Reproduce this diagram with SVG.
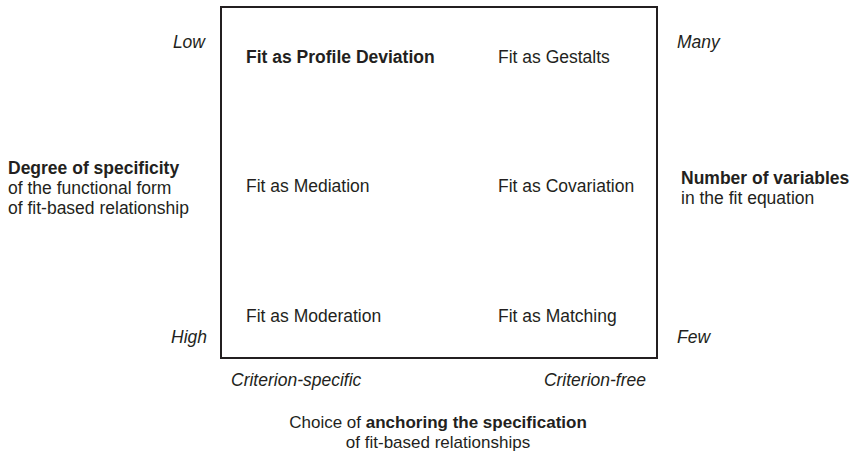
<svg xmlns="http://www.w3.org/2000/svg" width="853" height="455" viewBox="0 0 853 455">
  <style>
    text { font-family: "Liberation Sans", Arial, sans-serif; font-size: 17.5px; fill: #231f20; }
    .b { font-weight: bold; }
    .i { font-style: italic; }
    .caption { font-size: 17px; }
    .frame { fill: none; stroke: #231f20; stroke-width: 2; }
  </style>
  <rect width="853" height="455" fill="#ffffff"/>

  <!-- quadrant frame -->
  <g id="frame">
    <rect class="frame" x="221" y="7" width="436" height="351"/>
  </g>

  <!-- cells inside the frame -->
  <g id="profile-deviation"><text class="b" x="246" y="63">Fit as Profile Deviation</text></g>
  <g id="gestalts"><text x="498" y="63">Fit as Gestalts</text></g>
  <g id="mediation"><text x="246" y="192">Fit as Mediation</text></g>
  <g id="covariation"><text x="498" y="192">Fit as Covariation</text></g>
  <g id="moderation"><text x="246" y="322">Fit as Moderation</text></g>
  <g id="matching"><text x="498" y="322">Fit as Matching</text></g>

  <!-- left axis -->
  <g id="axis-left">
    <text class="i" x="205" y="48" text-anchor="end">Low</text>
    <text class="i" x="207" y="343" text-anchor="end">High</text>
    <text class="b" x="8" y="174">Degree of specificity</text>
    <text x="8" y="194">of the functional form</text>
    <text x="8" y="214">of fit-based relationship</text>
  </g>

  <!-- right axis -->
  <g id="axis-right">
    <text class="i" x="677" y="48">Many</text>
    <text class="i" x="677" y="343">Few</text>
    <text class="b" x="681" y="184">Number of variables</text>
    <text x="681" y="204">in the fit equation</text>
  </g>

  <!-- bottom axis -->
  <g id="axis-bottom">
    <text class="i" x="231" y="386">Criterion-specific</text>
    <text class="i" x="646" y="386" text-anchor="end">Criterion-free</text>
    <text class="caption" x="438" y="428" text-anchor="middle">Choice of <tspan class="b">anchoring the specification</tspan></text>
    <text class="caption" x="438" y="448" text-anchor="middle">of fit-based relationships</text>
  </g>
</svg>
